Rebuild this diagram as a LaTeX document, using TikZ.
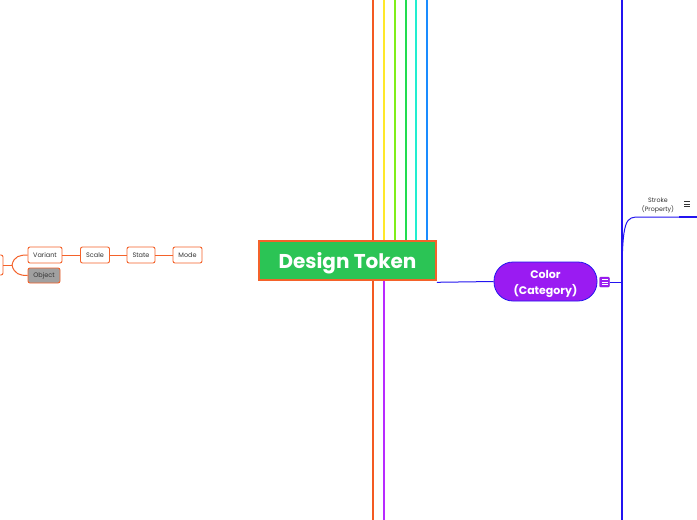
\documentclass[tikz,border=0pt]{standalone}
\usepackage{fontspec}
\newfontfamily\pop{Poppins}
\usetikzlibrary{calc}
\definecolor{orB}{HTML}{F4622A}
\definecolor{dtgreen}{HTML}{2BC455}
\definecolor{catpurple}{HTML}{9A1BF2}
\definecolor{blueL}{RGB}{35,20,240}
\definecolor{lnorange}{HTML}{F45A22}
\definecolor{lnyellow}{HTML}{FFE82A}
\definecolor{lnlime}{HTML}{80EE1A}
\definecolor{lngreen}{HTML}{22DD50}
\definecolor{lncyan}{HTML}{22EED0}
\definecolor{lnazure}{HTML}{1A8CFF}
\definecolor{lnpurple}{HTML}{B82AFF}
\definecolor{txt}{HTML}{333333}
\tikzset{
  leaf/.style={draw=orB, line width=0.9pt, fill=white, rounded corners=2pt, inner sep=0pt,
    minimum height=16pt, font=\pop\fontsize{6.5}{7}\selectfont, text=txt},
  branch/.style={line width=1pt},
  spoke/.style={line width=2pt},
}
\begin{document}
\begin{tikzpicture}[x=1pt,y=-1pt]
\useasboundingbox (0,0) rectangle (697,520);
\clip (0,0) rectangle (697,520);
\fill[white] (0,0) rectangle (697,520);

% top coordinates for spokes
\foreach \n/\x in {a/373,b/384,c/395,d/405.5,e/416,f/427}{
  \coordinate (top\n) at (\x,0);
}
\coordinate (botA) at (373,520);
\coordinate (botB) at (384,520);
\coordinate (bltop) at (622,0);
\coordinate (blbot) at (622,520);
\coordinate (blj) at (622,282);
\coordinate (strokeend) at (697,217);

% spokes behind the central node
\draw[spoke, lnorange] (topa) -- (botA);
\draw[spoke, lnyellow] (topb) -- (384,260);
\draw[spoke, lnlime] (topc) -- (395,260);
\draw[spoke, lngreen] (topd) -- (405.5,260);
\draw[spoke, lncyan] (tope) -- (416,260);
\draw[spoke, lnazure] (topf) -- (427,260);
\draw[spoke, lnpurple] (384,270) -- (botB);

% blue vertical
\draw[blueL, line width=2pt] (bltop) -- (blbot);

% central node
\node[draw=orB, line width=1.6pt, fill=dtgreen, minimum width=177pt, minimum height=39pt,
  inner sep=0pt, text=white, text height=15pt, text depth=0pt,
  font=\pop\bfseries\fontsize{20}{22}\selectfont]
  (dt) at (347.5,260.5) {Design Token};

% category node
\node[draw=blueL, line width=0.8pt, fill=catpurple, rounded corners=19pt,
  minimum width=103pt, minimum height=39pt, inner sep=0pt]
  (color) at (545.5,281.5) {};
\node[text=white, align=center, inner sep=0pt,
  font=\pop\bfseries\fontsize{11}{15.5}\selectfont]
  (colortext) at (545.5,284) {Color\\(Category)};

% small icon
\node[fill=catpurple, draw=catpurple!80!black, line width=0.3pt, rounded corners=1pt,
  minimum width=10pt, minimum height=10pt, inner sep=0pt] (icon) at (604.5,282) {};
\foreach \dy in {-2.5,0,2.5}{
  \draw[white, line width=0.8pt] ($(icon.center)+(-3,\dy)$) -- ($(icon.center)+(3,\dy)$);
}

\draw[blueL, branch] ([yshift=-1.5pt]dt.south east) -- (color.west);
\draw[blueL, branch] (icon.east) -- (blj);
\draw[blueL, branch] (blj) .. controls (622,217) and (626,217) .. (640,217) -- (679,217);
\draw[blueL, line width=2pt] (679,217) -- (strokeend);

% property label
\node[font=\pop\fontsize{6.3}{9}\selectfont, text=txt, align=center, inner sep=0pt]
  (stroke) at (658,205) {Stroke\\(Property)};
\node[inner sep=0pt, minimum width=7pt, minimum height=6pt] (menu) at (687,204) {};
\foreach \dy in {-2.3,0,2.3}{
  \draw[txt, line width=0.6pt] ($(menu.center)+(-3,\dy)$) -- ($(menu.center)+(3,\dy)$);
}

% left branch
\node[leaf, minimum width=36pt, minimum height=20pt] (cut) at (-15,265) {};
\node[leaf, minimum width=34pt] (variant) at (45,255) {Variant};
\node[leaf, minimum width=32pt, minimum height=15pt, fill={rgb,255:red,160;green,160;blue,160}] (object) at (44,275.5) {Object};
\node[leaf, minimum width=29pt] (scale) at (95,255) {Scale};
\node[leaf, minimum width=28pt] (state) at (141,255) {State};
\node[leaf, minimum width=29pt] (mode) at (187.5,255) {Mode};

\coordinate (fork) at (12,265);
\draw[orB, branch] (cut.east) -- (fork);
\draw[orB, branch] (fork) .. controls (14,256) and (20,255) .. (variant.west);
\draw[orB, branch] (fork) .. controls (14,274) and (20,275.5) .. (object.west);
\draw[orB, branch] (variant) -- (scale);
\draw[orB, branch] (scale) -- (state);
\draw[orB, branch] (state) -- (mode);
\end{tikzpicture}
\end{document}
